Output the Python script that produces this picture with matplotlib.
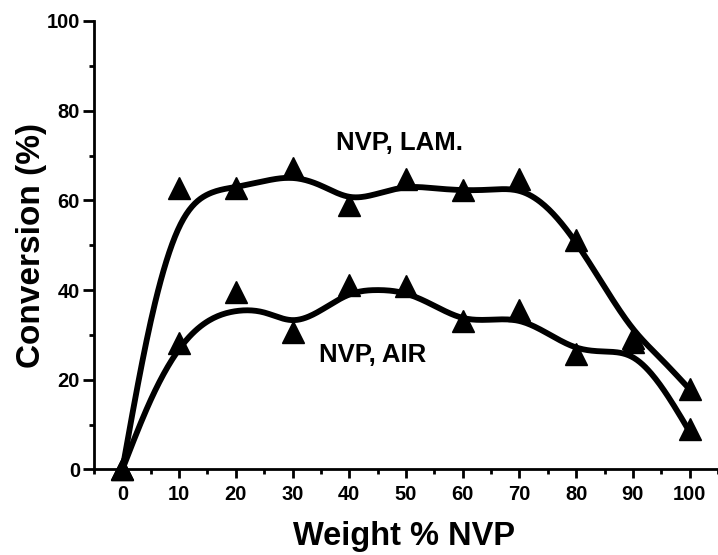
import matplotlib
matplotlib.use('Agg')
import matplotlib.pyplot as plt
from matplotlib.ticker import MultipleLocator
import numpy as np

# measured points
nvp = [0, 10, 20, 30, 40, 50, 60, 70, 80, 90, 100]
conv_lam = [0, 62.7, 62.8, 67.3, 59.0, 64.8, 62.3, 64.8, 51.2, 29.3, 17.9]
conv_air = [0, 28.1, 39.5, 30.7, 41.2, 41.0, 33.0, 35.5, 25.8, 28.5, 9.0]

# hand-drawn smooth fit curves, read at every 5 %
fit_x = [0, 5, 10, 15, 20, 25, 30, 35, 40, 45, 50, 55, 60, 65, 70, 75, 80, 85, 90, 95, 100]
fit_lam = [0, 33, 54, 61.3, 63.0, 64.3, 65.0, 63.3, 60.8, 61.5, 62.9, 62.7, 62.3, 62.4,
           62.1, 58.2, 50.5, 40.7, 31.4, 24.6, 17.9]
fit_air = [0, 15.5, 26.8, 33.0, 35.3, 35.0, 33.3, 35.5, 39.0, 40.0, 39.2, 36.5, 33.8, 33.4,
           33.1, 30.3, 27.2, 26.3, 25.0, 18.5, 8.4]


def natural_spline(xk, yk, xs):
    """Natural cubic spline through the knots, evaluated at xs."""
    xk = np.asarray(xk, float)
    yk = np.asarray(yk, float)
    n = len(xk)
    h = np.diff(xk)
    A = np.zeros((n, n))
    r = np.zeros(n)
    A[0, 0] = A[-1, -1] = 1
    for i in range(1, n - 1):
        A[i, i - 1] = h[i - 1]
        A[i, i] = 2 * (h[i - 1] + h[i])
        A[i, i + 1] = h[i]
        r[i] = 3 * ((yk[i + 1] - yk[i]) / h[i] - (yk[i] - yk[i - 1]) / h[i - 1])
    c = np.linalg.solve(A, r)
    b = (yk[1:] - yk[:-1]) / h - h * (2 * c[:-1] + c[1:]) / 3
    d = (c[1:] - c[:-1]) / (3 * h)
    idx = np.clip(np.searchsorted(xk, xs) - 1, 0, n - 2)
    dx = xs - xk[idx]
    return yk[idx] + b[idx] * dx + c[idx] * dx ** 2 + d[idx] * dx ** 3


def plotConversion():
    plt.rcParams['font.family'] = ['Liberation Sans', 'DejaVu Sans']
    plt.rcParams['font.weight'] = 'bold'

    fig = plt.figure(figsize=(7.18, 5.55), dpi=100)
    ax = fig.add_axes([0.1309, 0.1541, 0.8691, 0.8081])

    xs = np.linspace(0, 100, 400)
    for fit in (fit_lam, fit_air):
        ax.plot(xs, natural_spline(fit_x, fit, xs), color='black', lw=4.2,
                solid_capstyle='round', clip_on=False)
    for pts in (conv_lam, conv_air):
        ax.plot(nvp, pts, linestyle='none', marker='^', ms=16, color='black',
                clip_on=False, zorder=3)

    ax.text(48.9, 72.9, 'NVP, LAM.', fontsize=18.5, fontweight='bold',
            ha='center', va='center')
    ax.text(44.2, 25.6, 'NVP, AIR', fontsize=18.5, fontweight='bold',
            ha='center', va='center')

    ax.set_xlim(-5, 105)
    ax.set_ylim(0, 100)
    ax.xaxis.set_major_locator(MultipleLocator(10))
    ax.xaxis.set_minor_locator(MultipleLocator(5))
    ax.yaxis.set_major_locator(MultipleLocator(20))
    ax.yaxis.set_minor_locator(MultipleLocator(10))
    ax.set_xticks(nvp)

    for side in ('top', 'right'):
        ax.spines[side].set_visible(False)
    for side in ('left', 'bottom'):
        ax.spines[side].set_linewidth(2)

    ax.tick_params(axis='y', which='major', direction='out', length=8, width=2,
                   labelsize=14.5, pad=2)
    ax.tick_params(axis='x', which='major', direction='out', length=6.5, width=2,
                   labelsize=14.5, pad=5)
    ax.tick_params(which='minor', direction='out', length=3.5, width=2)

    ax.set_xlabel('Weight % NVP', fontsize=23.5, fontweight='bold')
    ax.set_ylabel('Conversion (%)', fontsize=24, fontweight='bold')
    ax.xaxis.set_label_coords(0.497, -0.116)
    ax.yaxis.set_label_coords(-0.075, 0.5)

    fig.savefig('out.png', dpi=100)


if __name__ == '__main__':
    plotConversion()
